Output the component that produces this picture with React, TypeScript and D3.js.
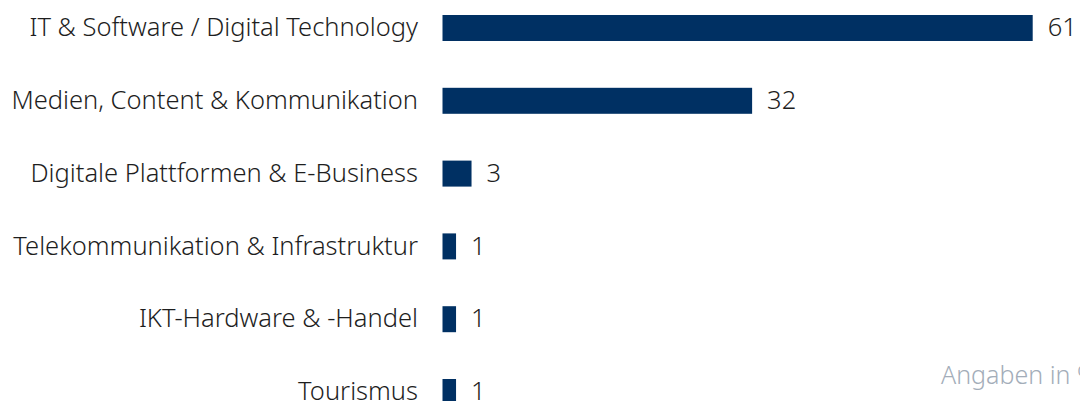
import * as d3 from 'd3'
import { useEffect, useRef } from 'react'

const categories = [
  'IT & Software / Digital Technology',
  'Medien, Content & Kommunikation',
  'Digitale Plattformen & E-Business',
  'Telekommunikation & Infrastruktur',
  'IKT-Hardware & -Handel',
  'Tourismus',
]
const values = [61, 32, 3, 1.4, 1.4, 1.4]
const valueLabels = ['61', '32', '3', '1', '1', '1']
const note = 'Angaben in %'

const W = 1080
const H = 401
const FONT = '"Noto Sans", "Open Sans", sans-serif'
const SIZE = 25.5

export default function App() {
  const svgRef = useRef<SVGSVGElement>(null)

  useEffect(() => {
    if (!svgRef.current) return
    document.body.style.margin = '0'

    const svg = d3.select(svgRef.current)
    svg.selectAll('*').remove()

    // Scales
    const x = d3.scaleLinear().domain([0, 61]).range([442.5, 1032.7])
    const y = d3
      .scaleBand<string>()
      .domain(categories)
      .range([15, 405])
      .paddingInner(0.643)
      .paddingOuter(0)

    const rows = svg
      .selectAll('.row')
      .data(categories)
      .enter()
      .append('g')
      .attr('class', 'row')

    // Category labels
    rows
      .append('text')
      .attr('x', 418)
      .attr('y', (d) => (y(d) as number) + y.bandwidth() / 2)
      .attr('dy', '0.32em')
      .attr('text-anchor', 'end')
      .attr('fill', '#1e1e1e')
      .attr('font-family', FONT)
      .attr('font-weight', 300)
      .attr('font-size', SIZE)
      .text((d) => d)

    // Bars
    rows
      .append('rect')
      .attr('x', x(0))
      .attr('y', (d) => y(d) as number)
      .attr('width', (d, i) => x(values[i]) - x(0))
      .attr('height', y.bandwidth())
      .attr('fill', '#003063')

    // Value labels
    rows
      .append('text')
      .attr('x', (d, i) => x(values[i]) + 15)
      .attr('y', (d) => (y(d) as number) + y.bandwidth() / 2)
      .attr('dy', '0.32em')
      .attr('fill', '#1e1e1e')
      .attr('font-family', FONT)
      .attr('font-weight', 300)
      .attr('font-size', SIZE)
      .text((d, i) => valueLabels[i])

    // Note
    svg
      .append('text')
      .attr('x', 941)
      .attr('y', 384)
      .attr('fill', '#a3adb9')
      .attr('font-family', FONT)
      .attr('font-weight', 300)
      .attr('font-size', SIZE - 0.5)
      .text(note)
  }, [])

  return (
    <svg
      ref={svgRef}
      width={W}
      height={H}
      style={{ display: 'block', position: 'absolute', left: 0, top: 0, background: '#fff' }}
    />
  )
}
